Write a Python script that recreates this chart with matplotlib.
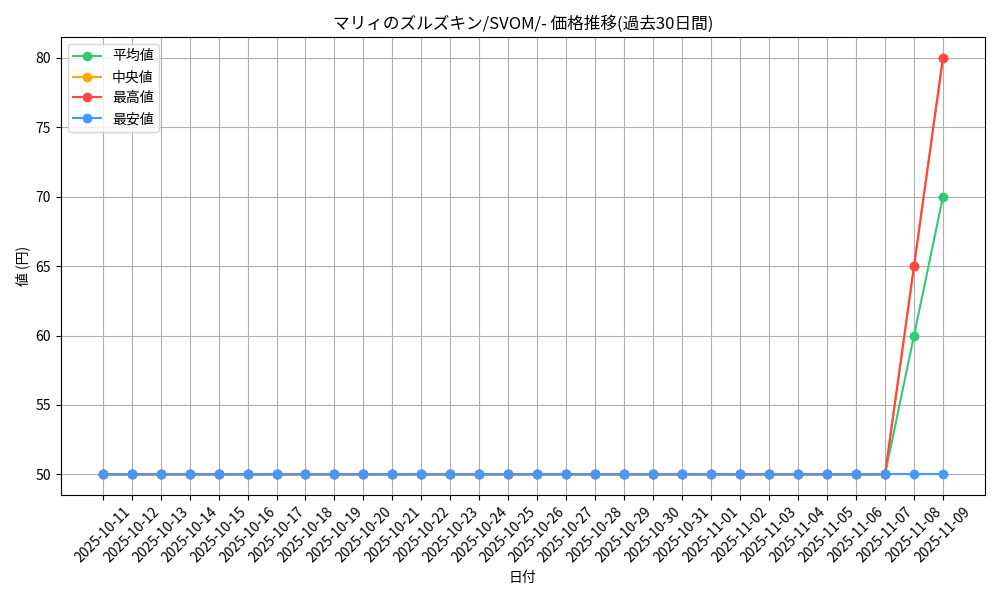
import matplotlib
matplotlib.use("Agg")
import matplotlib.pyplot as plt

plt.rcParams['font.family'] = ['Noto Sans CJK JP', 'DejaVu Sans']

# 30 jours : 2025-10-11 -> 2025-11-09
dates = ["2025-10-%02d" % d for d in range(11, 32)] + ["2025-11-%02d" % d for d in range(1, 10)]

avg_prices = [50] * 28 + [60, 70]
med_prices = [50] * 28 + [65, 80]
max_prices = [50] * 28 + [65, 80]
min_prices = [50] * 30

fig, ax = plt.subplots(figsize=(10, 6), dpi=100)
ax.plot(dates, avg_prices, marker='o', color='#2ecc71', label='平均値')
ax.plot(dates, med_prices, marker='o', color='#ffa500', label='中央値')
ax.plot(dates, max_prices, marker='o', color='#ff4444', label='最高値')
ax.plot(dates, min_prices, marker='o', color='#4499ff', label='最安値')

ax.set_title('マリィのズルズキン/SVOM/- 価格推移(過去30日間)')
ax.set_xlabel('日付')
ax.set_ylabel('値 (円)')
ax.legend(loc='upper left')
ax.grid(True)
plt.xticks(rotation=45)
plt.tight_layout()
plt.savefig('out.png')
